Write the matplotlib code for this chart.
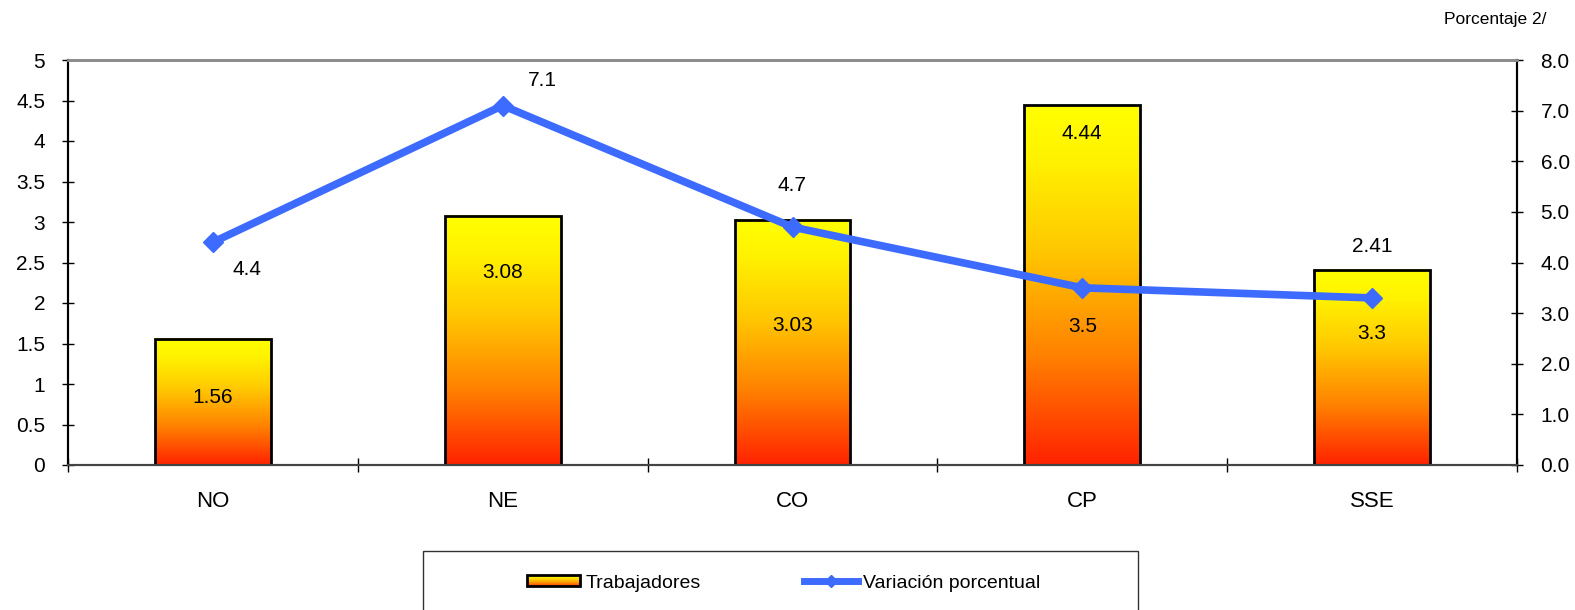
import matplotlib
matplotlib.use("Agg")
import matplotlib.pyplot as plt
import numpy as np
from matplotlib.colors import LinearSegmentedColormap
from matplotlib.patches import Rectangle
from matplotlib.lines import Line2D
from matplotlib.legend_handler import HandlerBase

plt.rcParams['font.family'] = ['Liberation Sans', 'DejaVu Sans']

# data
regiones = ["NO", "NE", "CO", "CP", "SSE"]
trabajadores = [1.56, 3.08, 3.03, 4.44, 2.41]
variacion = [4.4, 7.1, 4.7, 3.5, 3.3]
# label offsets in points (dx, dy)
bar_lbl_off = [(0, -42.5), (0, -41), (0, -76), (0, -20), (0, 16.5)]
line_lbl_off = [(24.5, -19.5), (28.5, 18), (0, 30), (0, -27.7), (0, -25.5)]

grad = LinearSegmentedColormap.from_list(
    "g", [(0, "#FF2200"), (0.3, "#FF8000"), (0.6, "#FFC800"), (0.85, "#FFF200"), (1, "#FFFF00")])
blue = "#3D6BFF"

W, H = 1575, 610
fig = plt.figure(figsize=(W / 100, H / 100), dpi=100)
ax = fig.add_axes([68 / W, 1 - 465 / H, (1517 - 68) / W, (465 - 60) / H])
ax2 = ax.twinx()

x = np.arange(len(regiones))
bars = ax.bar(x, trabajadores, width=0.4, facecolor="none", edgecolor="black", linewidth=2, zorder=3)
g = np.linspace(0, 1, 256).reshape(-1, 1)
for b in bars:
    x0, y0, w, h = b.get_x(), b.get_y(), b.get_width(), b.get_height()
    ax.imshow(g, cmap=grad, origin="lower", aspect="auto",
              extent=[x0, x0 + w, y0, y0 + h], zorder=2)
for xi, v, off in zip(x, trabajadores, bar_lbl_off):
    ax.annotate(f"{v:.2f}", (xi, v), xytext=off, textcoords="offset points",
                ha="center", va="center", fontsize=15, zorder=5)

ax.set_xlim(-0.5, len(regiones) - 0.5)
ax.set_ylim(0, 5)
ax.set_yticks(np.arange(0, 5.01, 0.5))
ax.set_yticklabels(["0", "0.5", "1", "1.5", "2", "2.5", "3", "3.5", "4", "4.5", "5"])
ax.set_xticks(x)
ax.set_xticklabels(regiones)
ax.set_xticks(np.arange(-0.5, len(regiones)), minor=True)
ax.tick_params(axis="x", which="major", length=0, pad=19, labelsize=16)
ax.tick_params(axis="x", which="minor", length=10, direction="inout", width=1)
ax.tick_params(axis="y", length=8, width=1, direction="inout", labelsize=15, pad=12.5)

ax2.plot(x, variacion, color=blue, linewidth=5.5, marker="D", markersize=10, zorder=4)
for xi, v, off in zip(x, variacion, line_lbl_off):
    ax2.annotate(f"{v}", (xi, v), xytext=off, textcoords="offset points",
                 ha="center", va="center", fontsize=15)
ax2.set_ylim(0, 8)
ax2.set_yticks(np.arange(0, 8.01, 1))
ax2.set_yticklabels([f"{t:.1f}" for t in np.arange(0, 8.01, 1)])
ax2.tick_params(axis="y", length=8, width=1, direction="inout", labelsize=15, pad=13)

for a in (ax, ax2):
    a.spines["top"].set_color("#8C8C8C")
    a.spines["top"].set_linewidth(2)
    a.spines["bottom"].set_color("#444444")
    a.spines["bottom"].set_linewidth(1.5)
    a.spines["left"].set_linewidth(1.5)
    a.spines["right"].set_linewidth(1.5)

fig.text(1547 / W, 1 - 19.5 / H, "Porcentaje 2/", ha="right", va="center", fontsize=12.5)


class GradHandler(HandlerBase):
    def create_artists(self, legend, orig, xd, yd, width, height, fontsize, trans):
        arts = []
        n = 12
        for i in range(n):
            c = grad((i + 0.5) / n)
            arts.append(Rectangle((-xd, -yd + height * i / n), width, height / n,
                                  facecolor=c, edgecolor="none", transform=trans))
        arts.append(Rectangle((-xd, -yd), width, height, facecolor="none",
                              edgecolor="black", linewidth=2, transform=trans))
        return arts


fig.patches.append(Rectangle((423 / W, -0.05), (1138 - 423) / W, 0.05 + (H - 551) / H,
                             transform=fig.transFigure, facecolor="white",
                             edgecolor="#333333", linewidth=1))
h1 = Rectangle((0, 0), 1, 1)
h2 = Line2D([], [], color=blue, linewidth=5, marker="D", markersize=6)
fig.legend([h1, h2], ["Trabajadores", "Variación porcentual"],
           handler_map={Rectangle: GradHandler()}, ncol=2, frameon=False,
           loc="center left", bbox_to_anchor=(527 / W, 1 - 583 / H), fontsize=14,
           borderpad=0, borderaxespad=0,
           handlelength=2.73, handletextpad=0.26, columnspacing=5.35, handleheight=0.55)

fig.savefig("out.png", dpi=100)
